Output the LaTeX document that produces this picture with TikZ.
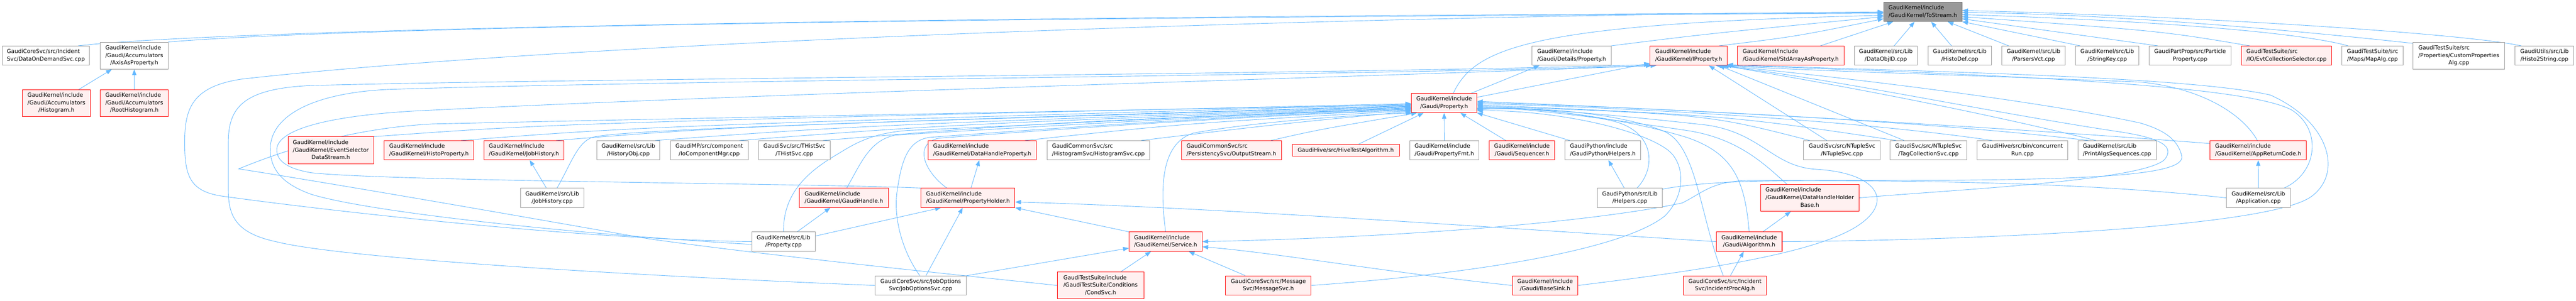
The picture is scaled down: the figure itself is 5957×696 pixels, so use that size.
\documentclass[tikz,border=0pt]{standalone}
\usepackage{fontspec}
\setmainfont{DejaVu Sans}
\usetikzlibrary{arrows.meta}
\definecolor{edgeblue}{HTML}{63B8FF}
\definecolor{gborder}{HTML}{999999}
\definecolor{rfill}{HTML}{FFF0F0}
\definecolor{rborder}{HTML}{FF0000}
\definecolor{rootfill}{HTML}{999999}
\definecolor{rootborder}{HTML}{666666}
\newcommand\gnodefont{\fontsize{9.6}{13}\selectfont}
\newcommand\twol[2]{\begin{tabular}{@{}l@{}}#1\\\multicolumn{1}{@{}c@{}}{#2}\end{tabular}}
\newcommand\threel[3]{\begin{tabular}{@{}l@{}}#1\\#2\\\multicolumn{1}{@{}c@{}}{#3}\end{tabular}}
\pgfdeclarelayer{bg}
\pgfsetlayers{bg,main}
\tikzset{
  nbox/.style={rectangle, inner sep=0pt, line width=0.9pt, font=\gnodefont, text=black},
  gbox/.style={nbox, draw=gborder, fill=white},
  rbox/.style={nbox, draw=rborder, fill=rfill},
  root/.style={nbox, draw=rootborder, fill=rootfill},
  lone/.style={minimum height=27.5*0.75pt},
  ltwo/.style={minimum height=44.4*0.75pt},
  lthree/.style={minimum height=62.2*0.75pt},
  dep/.style={draw=edgeblue, line width=0.8pt, -{Triangle[length=10pt,width=7.5pt]}},
}
\begin{document}
\begin{tikzpicture}[x=0.75pt,y=-0.75pt]
\useasboundingbox (0,0) rectangle (5957,696);
\begin{pgfonlayer}{bg}
\fill[white] (0,0) rectangle (5957,696);
\end{pgfonlayer}
% rank 0
\node[root,ltwo,minimum width=181*0.75pt] (T) at (4446.5,27.5) {\twol{GaudiKernel/include}{/GaudiKernel/ToStream.h}};
% rank 1
\node[gbox,ltwo,minimum width=202*0.75pt] (R1a) at (106,128.9) {\twol{GaudiCoreSvc/src/Incident}{Svc/DataOnDemandSvc.cpp}};
\node[gbox,lthree,minimum width=157*0.75pt] (R1b) at (310.5,128.9) {\threel{GaudiKernel/include}{/Gaudi/Accumulators}{/AxisAsProperty.h}};
\node[gbox,ltwo,minimum width=183*0.75pt] (R1c) at (3634.5,128.9) {\twol{GaudiKernel/include}{/Gaudi/Details/Property.h}};
\node[rbox,ltwo,minimum width=178*0.75pt] (R1d) at (3905,128.9) {\twol{GaudiKernel/include}{/GaudiKernel/IProperty.h}};
\node[rbox,ltwo,minimum width=246*0.75pt] (R1e) at (4141,128.9) {\twol{GaudiKernel/include}{/GaudiKernel/StdArrayAsProperty.h}};
\node[gbox,ltwo,minimum width=146*0.75pt] (R1f) at (4361,128.9) {\twol{GaudiKernel/src/Lib}{/DataObjID.cpp}};
\node[gbox,ltwo,minimum width=146*0.75pt] (R1g) at (4532,128.9) {\twol{GaudiKernel/src/Lib}{/HistoDef.cpp}};
\node[gbox,ltwo,minimum width=147*0.75pt] (R1h) at (4702.5,128.9) {\twol{GaudiKernel/src/Lib}{/ParsersVct.cpp}};
\node[gbox,ltwo,minimum width=146*0.75pt] (R1i) at (4873,128.9) {\twol{GaudiKernel/src/Lib}{/StringKey.cpp}};
\node[gbox,ltwo,minimum width=189*0.75pt] (R1j) at (5064.5,128.9) {\twol{GaudiPartProp/src/Particle}{Property.cpp}};
\node[rbox,ltwo,minimum width=209*0.75pt] (R1k) at (5287.5,128.9) {\twol{GaudiTestSuite/src}{/IO/EvtCollectionSelector.cpp}};
\node[gbox,ltwo,minimum width=141*0.75pt] (R1l) at (5486.5,128.9) {\twol{GaudiTestSuite/src}{/Maps/MapAlg.cpp}};
\node[gbox,lthree,minimum width=212*0.75pt] (R1m) at (5686,128.9) {\threel{GaudiTestSuite/src}{/Properties/CustomProperties}{Alg.cpp}};
\node[gbox,ltwo,minimum width=136*0.75pt] (R1n) at (5884,128.9) {\twol{GaudiUtils/src/Lib}{/Histo2String.cpp}};
% rank 2
\node[rbox,lthree,minimum width=157*0.75pt] (R2a) at (130.5,238.7) {\threel{GaudiKernel/include}{/Gaudi/Accumulators}{/Histogram.h}};
\node[rbox,lthree,minimum width=157*0.75pt] (R2b) at (310.5,238.7) {\threel{GaudiKernel/include}{/Gaudi/Accumulators}{/RootHistogram.h}};
\node[rbox,ltwo,minimum width=151*0.75pt] (R2c) at (3339.5,238.7) {\twol{GaudiKernel/include}{/Gaudi/Property.h}};
% rank 3
\node[rbox,lthree,minimum width=198*0.75pt] (R3a) at (765,348) {\threel{GaudiKernel/include}{/GaudiKernel/EventSelector}{DataStream.h}};
\node[rbox,ltwo,minimum width=208*0.75pt] (R3b) at (992,348) {\twol{GaudiKernel/include}{/GaudiKernel/HistoProperty.h}};
\node[rbox,ltwo,minimum width=185*0.75pt] (R3c) at (1211.5,348) {\twol{GaudiKernel/include}{/GaudiKernel/JobHistory.h}};
\node[gbox,ltwo,minimum width=146*0.75pt] (R3d) at (1453,348) {\twol{GaudiKernel/src/Lib}{/HistoryObj.cpp}};
\node[gbox,ltwo,minimum width=180*0.75pt] (R3e) at (1640,348) {\twol{GaudiMP/src/component}{/IoComponentMgr.cpp}};
\node[gbox,ltwo,minimum width=166*0.75pt] (R3f) at (1837,348) {\twol{GaudiSvc/src/THistSvc}{/THistSvc.cpp}};
\node[rbox,ltwo,minimum width=251*0.75pt] (R3g) at (2271.5,348) {\twol{GaudiKernel/include}{/GaudiKernel/DataHandleProperty.h}};
\node[gbox,ltwo,minimum width=238*0.75pt] (R3h) at (2540,348) {\twol{GaudiCommonSvc/src}{/HistogramSvc/HistogramSvc.cpp}};
\node[rbox,ltwo,minimum width=231*0.75pt] (R3i) at (2847.5,348) {\twol{GaudiCommonSvc/src}{/PersistencySvc/OutputStream.h}};
\node[rbox,lone,minimum width=248*0.75pt] (R3j) at (3112,348) {GaudiHive/src/HiveTestAlgorithm.h};
\node[gbox,ltwo,minimum width=160*0.75pt] (R3k) at (3340,348) {\twol{GaudiKernel/include}{/Gaudi/PropertyFmt.h}};
\node[rbox,ltwo,minimum width=151*0.75pt] (R3l) at (3519.5,348) {\twol{GaudiKernel/include}{/Gaudi/Sequencer.h}};
\node[gbox,ltwo,minimum width=175*0.75pt] (R3m) at (3706.5,348) {\twol{GaudiPython/include}{/GaudiPython/Helpers.h}};
\node[gbox,ltwo,minimum width=177*0.75pt] (R3n) at (4259.5,348) {\twol{GaudiSvc/src/NTupleSvc}{/NTupleSvc.cpp}};
\node[gbox,ltwo,minimum width=177*0.75pt] (R3o) at (4459.5,348) {\twol{GaudiSvc/src/NTupleSvc}{/TagCollectionSvc.cpp}};
\node[gbox,ltwo,minimum width=210*0.75pt] (R3p) at (4677,348) {\twol{GaudiHive/src/bin/concurrent}{Run.cpp}};
\node[gbox,ltwo,minimum width=181*0.75pt] (R3q) at (4895.5,348) {\twol{GaudiKernel/src/Lib}{/PrintAlgsSequences.cpp}};
\node[rbox,ltwo,minimum width=222*0.75pt] (R3r) at (5222,348) {\twol{GaudiKernel/include}{/GaudiKernel/AppReturnCode.h}};
% rank 4
\node[gbox,ltwo,minimum width=146*0.75pt] (R4a) at (1277,458.2) {\twol{GaudiKernel/src/Lib}{/JobHistory.cpp}};
\node[rbox,ltwo,minimum width=205*0.75pt] (R4b) at (1951.5,458.2) {\twol{GaudiKernel/include}{/GaudiKernel/GaudiHandle.h}};
\node[rbox,ltwo,minimum width=217*0.75pt] (R4c) at (2238.5,458.2) {\twol{GaudiKernel/include}{/GaudiKernel/PropertyHolder.h}};
\node[gbox,ltwo,minimum width=150*0.75pt] (R4d) at (3769,458.2) {\twol{GaudiPython/src/Lib}{/Helpers.cpp}};
\node[rbox,lthree,minimum width=228*0.75pt] (R4e) at (4185,458.2) {\threel{GaudiKernel/include}{/GaudiKernel/DataHandleHolder}{Base.h}};
\node[gbox,ltwo,minimum width=147*0.75pt] (R4f) at (5222.5,458.2) {\twol{GaudiKernel/src/Lib}{/Application.cpp}};
% rank 5
\node[gbox,ltwo,minimum width=146*0.75pt] (R5a) at (1812,559.5) {\twol{GaudiKernel/src/Lib}{/Property.cpp}};
\node[rbox,ltwo,minimum width=169*0.75pt] (R5b) at (2695.5,559.5) {\twol{GaudiKernel/include}{/GaudiKernel/Service.h}};
\node[rbox,ltwo,minimum width=152*0.75pt] (R5c) at (4045,559.5) {\twol{GaudiKernel/include}{/Gaudi/Algorithm.h}};
% rank 6
\node[gbox,ltwo,minimum width=210*0.75pt] (R6a) at (2129,660.9) {\twol{GaudiCoreSvc/src/JobOptions}{Svc/JobOptionsSvc.cpp}};
\node[rbox,lthree,minimum width=200*0.75pt] (R6b) at (2545,660.9) {\threel{GaudiTestSuite/include}{/GaudiTestSuite/Conditions}{/CondSvc.h}};
\node[rbox,ltwo,minimum width=198*0.75pt] (R6c) at (2933,660.9) {\twol{GaudiCoreSvc/src/Message}{Svc/MessageSvc.h}};
\node[rbox,ltwo,minimum width=152*0.75pt] (R6d) at (3573,660.9) {\twol{GaudiKernel/include}{/Gaudi/BaseSink.h}};
\node[rbox,ltwo,minimum width=192*0.75pt] (R6e) at (3989,660.9) {\twol{GaudiCoreSvc/src/Incident}{Svc/IncidentProcAlg.h}};

\begin{pgfonlayer}{bg}
% ---- into ToStream.h
\draw[dep] (R1a.17) .. controls (420,78) and (1500,42) .. (T.181);
\draw[dep] (R1b.22) .. controls (700,72) and (1600,44) .. (T.182);
\draw[dep] (R5a.west) .. controls (1300,553) and (700,480) .. (520,455) .. controls (440,445) and (427,410) .. (427,330) .. controls (427,250) and (445,200) .. (560,183) .. controls (1300,100) and (3000,38) .. (T.180);
\draw[dep] (R2c.47) .. controls (3410,110) and (3540,55) .. (T.185);
\draw[dep] (R1c.14) .. controls (3950,78) .. (T.187);
\draw[dep] (R1d.18) .. controls (4150,85) .. (T.190);
\draw[dep] (R1e) -- (T);
\draw[dep] (R1f) -- (T);
\draw[dep] (R1g) -- (T);
\draw[dep] (R1h) -- (T);
\draw[dep] (R1i.160) -- (T.-14);
\draw[dep] (R1j.163) -- (T.-10);
\draw[dep] (R1k.165) .. controls (5000,72) .. (T.-7);
\draw[dep] (R1l.158) .. controls (5300,70) and (4900,45) .. (T.-4);
\draw[dep] (R1m.165) .. controls (5350,75) and (4900,32) .. (T.-1);
\draw[dep] (R1n.157) .. controls (5700,78) and (5100,38) .. (T.2);
% ---- accumulators
\draw[dep] (R2a) -- (R1b);
\draw[dep] (R2b) -- (R1b);
% ---- Gaudi/Property.h upwards
\draw[dep] (R2c.20) -- (R1c.197);
\draw[dep] (R2c.10) -- (R1d.191);
% ---- left loops
\draw[dep] (R6a.west) .. controls (1500,640) and (800,600) .. (640,560) .. controls (545,540) and (528,500) .. (528,440) -- (528,330) .. controls (528,250) and (560,205) .. (720,198) .. controls (1300,182) and (3100,172) .. (R1d.193);
\draw[dep] (R5a.185) .. controls (1300,540) and (850,490) .. (720,450) .. controls (650,425) and (625,390) .. (625,345) .. controls (625,270) and (720,215) .. (900,207) .. controls (1600,185) and (3100,176) .. (R1d.195);
\draw[dep] (R4c.north west) .. controls (1900,425) and (900,420) .. (720,400) .. controls (660,390) and (640,370) .. (640,347) .. controls (640,300) and (760,265) .. (1000,255) .. controls (1800,215) and (3100,180) .. (R1d.197);
\draw[dep] (R6b.west) .. controls (2250,640) and (1800,595) .. (1500,553) .. controls (1200,500) and (800,430) .. (552,391) .. controls (700,330) and (850,295) .. (1000,287) .. controls (2000,265) and (2900,250) .. (R2c.183);
% ---- into Gaudi/Property.h from the left
\draw[dep] (R3a.north east) .. controls (1300,285) .. (R2c.181);
\draw[dep] (R3b.17) .. controls (1500,292) .. (R2c.182);
\draw[dep] (R3c.17) .. controls (1700,292) .. (R2c.184);
\draw[dep] (R4a.64) .. controls (1320,380) and (1335,330) .. (1370,318) .. controls (1450,295) and (2500,270) .. (R2c.185);
\draw[dep] (R3d.20) .. controls (2000,290) .. (R2c.186);
\draw[dep] (R3e.18) .. controls (2200,288) .. (R2c.187);
\draw[dep] (R3f.19) .. controls (2400,285) .. (R2c.188);
\draw[dep] (R4b.74) .. controls (1990,380) and (2010,325) .. (2070,313) .. controls (2400,292) and (2900,265) .. (R2c.189);
\draw[dep] (R5a.north) .. controls (1810,440) and (1880,390) .. (1940,355) .. controls (1980,330) and (2020,308) .. (2100,302) .. controls (2500,285) and (2900,262) .. (R2c.190);
\draw[dep] (R6a.95) .. controls (2085,580) and (2065,500) .. (2075,440) .. controls (2085,370) and (2100,325) .. (2150,318) .. controls (2500,292) and (2900,266) .. (R2c.191);
\draw[dep] (R4c.155) .. controls (2140,400) and (2110,335) .. (2170,320) .. controls (2500,295) and (2900,268) .. (R2c.192);
\draw[dep] (R3g.13) .. controls (2750,285) .. (R2c.193);
\draw[dep] (R3h.13) .. controls (2950,288) .. (R2c.194);
\draw[dep] (R5b.north) .. controls (2680,420) and (2690,330) .. (2760,308) .. controls (2900,283) and (3100,268) .. (R2c.197);
\draw[dep] (R3i.14) .. controls (3050,300) .. (R2c.200);
\draw[dep] (R3j) -- (R2c);
\draw[dep] (R3k) -- (R2c);
\draw[dep] (R3l) -- (R2c);
\draw[dep] (R3m) -- (R2c);
% ---- short ones
\draw[dep] (R4a) -- (R3c);
\draw[dep] (R4c) -- (R3g);
\draw[dep] (R4d) -- (R3m);
\draw[dep] (R5a) -- (R4b);
\draw[dep] (R5a.10) -- (R4c.200);
\draw[dep] (R6a) -- (R4c);
\draw[dep] (R6a.12) -- (R5b.190);
\draw[dep] (R5b.north west) -- (R4c.south east);
\draw[dep] (R5c.west) .. controls (3500,530) and (2800,480) .. (R4c.-5);
\draw[dep] (R6b) -- (R5b);
\draw[dep] (R6c) -- (R5b);
\draw[dep] (R6d.west) .. controls (3200,630) and (2950,585) .. (R5b.-8);
\draw[dep] (R4f.west) .. controls (4800,420) and (4400,418) .. (4050,418) .. controls (3960,418) and (3940,445) .. (3890,470) .. controls (3700,510) and (3300,548) .. (R5b.east);
\draw[dep] (R6e) -- (R5c);
\draw[dep] (R5c) -- (R4e);
\draw[dep] (R4f) -- (R3r);
% ---- into Gaudi/Property.h from the right
\draw[dep] (R4d.54) .. controls (3830,390) and (3830,300) .. (3720,278) .. controls (3620,258) and (3500,245) .. (R2c.-10);
\draw[dep] (R6c.east) .. controls (3400,635) and (3750,580) .. (3850,500) .. controls (3900,450) and (3895,380) .. (3860,350) .. controls (3800,300) and (3600,255) .. (R2c.-13);
\draw[dep] (R6d.east) .. controls (3900,630) and (4200,590) .. (4300,520) .. controls (4380,465) and (4340,400) .. (4200,392) .. controls (4100,386) and (4075,310) .. (3950,290) .. controls (3700,262) and (3500,246) .. (R2c.-12);
\draw[dep] (R6e.100) .. controls (3930,500) and (3925,340) .. (3850,305) .. controls (3750,262) and (3550,246) .. (R2c.-11);
\draw[dep] (R5c.north) .. controls (4035,420) and (4010,355) .. (3900,318) .. controls (3760,275) and (3560,247) .. (R2c.-9);
\draw[dep] (R4e.149) .. controls (4080,380) and (4020,320) .. (3900,302) .. controls (3700,272) and (3520,250) .. (R2c.-7);
\draw[dep] (R3n.163) .. controls (3950,265) .. (R2c.-5);
\draw[dep] (R3o.163) .. controls (4000,268) .. (R2c.-3);
\draw[dep] (R3p.162) .. controls (4300,280) and (3800,250) .. (R2c.-1);
\draw[dep] (R3q.161) .. controls (4500,285) and (3900,252) .. (R2c.1);
\draw[dep] (R3r.172) .. controls (4500,285) and (3800,250) .. (R2c.3);
% ---- into IProperty.h from the right
\draw[dep] (R3n.147) -- (R1d.-26);
\draw[dep] (R3o.158) -- (R1d.-18);
\draw[dep] (R3q.155) .. controls (4500,240) and (4150,180) .. (R1d.-16);
\draw[dep] (R3r.95) .. controls (5190,270) and (5100,205) .. (4950,190) .. controls (4500,172) and (4200,165) .. (R1d.-15);
\draw[dep] (R4f.21) .. controls (5360,400) and (5370,300) .. (5300,255) .. controls (5200,200) and (4700,175) .. (R1d.-14);
\draw[dep] (R5c.east) .. controls (4600,556) and (5250,525) .. (5345,455) .. controls (5420,400) and (5385,280) .. (5250,220) .. controls (5050,175) and (4400,165) .. (R1d.-13);
\draw[dep] (R4e.east) .. controls (4500,440) and (4950,420) .. (5005,370) .. controls (5030,340) and (5000,320) .. (4900,305) .. controls (4600,260) and (4200,175) .. (R1d.-20);
\draw[dep] (R4d.15) .. controls (3950,418) and (4100,418) .. (4300,418) .. controls (4800,418) and (5060,410) .. (5045,360) .. controls (5035,320) and (5000,300) .. (4950,285) .. controls (4700,230) and (4200,172) .. (R1d.-17);
\end{pgfonlayer}
\end{tikzpicture}
\end{document}
